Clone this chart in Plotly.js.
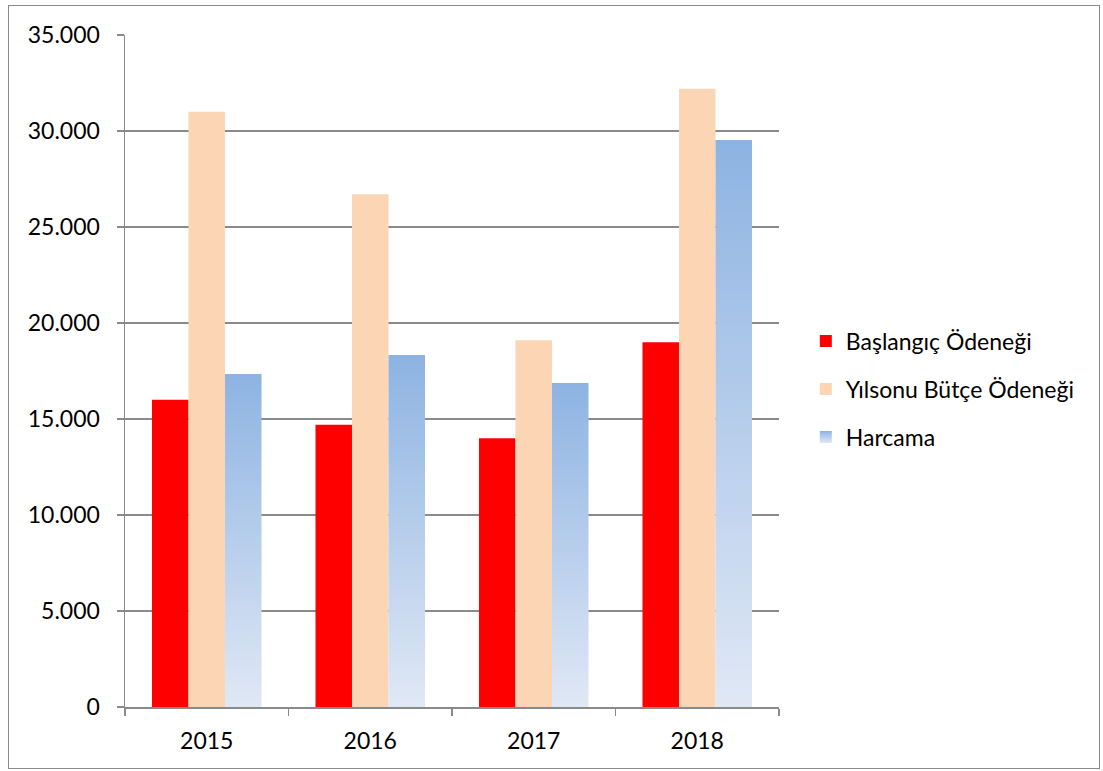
<!DOCTYPE html>
<html>
<head>
<meta charset="utf-8">
<script src="https://cdn.plot.ly/plotly-3.0.1.min.js"></script>
<style>
html,body{margin:0;padding:0;background:#fff;}
#frame{position:absolute;left:8px;top:5px;width:1092px;height:764px;border:1.5px solid #8a8a8a;box-sizing:border-box;}
#chart{position:absolute;left:0;top:0;width:1103px;height:771px;}
</style>
</head>
<body>
<div id="frame"></div>
<div id="chart"></div>
<script>
const years = ['2015', '2016', '2017', '2018'];
const baslangic = [16000, 14700, 14000, 19000];
const yilsonu = [31000, 26700, 19100, 32200];
const harcama = [17350, 18330, 16880, 29530];
const names = ['Başlangıç Ödeneği', 'Yılsonu Bütçe Ödeneği', 'Harcama'];
const colors = ['#FF0000', '#FCD5B5', '#8DB3E2'];

const font = {family: 'Lato, Open Sans, sans-serif', size: 23, color: '#000'};
const series = [baslangic, yilsonu, harcama];
const data = series.map((v, i) => ({
  type: 'bar', x: years, y: v, name: names[i], legendgroup: 'g' + i,
  marker: {color: colors[i], line: {width: 0}}, hoverinfo: 'skip'
}));

const layout = {
  width: 1103, height: 771,
  margin: {l: 125, r: 324, t: 35, b: 64},
  paper_bgcolor: 'rgba(0,0,0,0)', plot_bgcolor: 'rgba(0,0,0,0)',
  font: font,
  separators: ',.',
  barmode: 'group', bargap: 0.33, bargroupgap: 0,
  showlegend: true,
  legend: {x: 1.041, xanchor: 'left', y: 0.473, yanchor: 'middle', font: font,
           tracegroupgap: 15, bgcolor: 'rgba(0,0,0,0)'},
  xaxis: {type: 'category', showgrid: false, showline: true, linecolor: '#8a8a8a', linewidth: 1.5,
          ticks: 'outside', tickson: 'boundaries', ticklen: 7, tickcolor: '#8a8a8a', tickwidth: 1.5,
          tickfont: font, zeroline: false, ticklabelstandoff: 13},
  yaxis: {range: [0, 35000], dtick: 5000, tickformat: ',d', showgrid: true, gridcolor: '#8a8a8a', gridwidth: 1.5,
          showline: true, linecolor: '#8a8a8a', linewidth: 1.5, ticks: 'outside', ticklen: 7,
          tickcolor: '#8a8a8a', tickwidth: 1.5, tickfont: font, zeroline: false, ticklabelstandoff: 12}
};

Plotly.newPlot('chart', data, layout, {displayModeBar: false, staticPlot: true}).then(gd => {
  const svg = gd.querySelector('svg.main-svg');
  const ns = 'http://www.w3.org/2000/svg';
  let defs = svg.querySelector('defs');
  const lg = document.createElementNS(ns, 'linearGradient');
  lg.setAttribute('id', 'harcamaGrad');
  lg.setAttribute('x1', '0'); lg.setAttribute('y1', '0');
  lg.setAttribute('x2', '0'); lg.setAttribute('y2', '1');
  [['0', '#8DB3E2'], ['1', '#E0E8F5']].forEach(([o, c]) => {
    const s = document.createElementNS(ns, 'stop');
    s.setAttribute('offset', o); s.setAttribute('stop-color', c);
    lg.appendChild(s);
  });
  defs.appendChild(lg);
  const traces = gd.querySelectorAll('.barlayer .trace');
  traces[2].querySelectorAll('path').forEach(p => { p.style.fill = 'url(#harcamaGrad)'; });
  const legTraces = gd.querySelectorAll('.legend .traces');
  legTraces[2].querySelectorAll('.legendpoints path').forEach(p => { p.style.fill = 'url(#harcamaGrad)'; });
});
</script>
</body>
</html>
